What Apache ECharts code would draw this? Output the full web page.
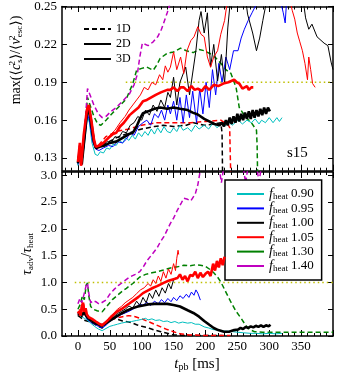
<!DOCTYPE html>
<html lang="en">
<head>
    <meta charset="UTF-8">
    <title>s15 heating</title>
    <script src="https://cdn.jsdelivr.net/npm/echarts@6.0.0/dist/echarts.min.js"></script>
    <style>
        body { margin: 0; background: #fff; }
        #chart { width: 339px; height: 376px; }
    </style>
</head>
<body>
    <div id="chart"></div>
    <script>
        // ---- data: [t_pb (ms), value] ----
        // top panel: max(<cs^2>/<vesc^2>)
        const top1D_140 = [[0,0.126],[2,0.14],[4,0.124],[7,0.13],[11,0.155],[15,0.185],[19,0.18],[25,0.172],[32,0.165],[38,0.162],[44,0.163],[52,0.167],[60,0.170],[70,0.175],[81,0.181],[88,0.188],[93,0.196],[97,0.21],[101,0.221],[110,0.219],[118,0.222],[125,0.226],[131,0.232],[140,0.245],[150,0.262]];
        const top1D_130 = [[0,0.125],[3,0.135],[6,0.126],[10,0.15],[15,0.178],[19,0.172],[25,0.163],[31,0.157],[36,0.156],[44,0.16],[54,0.1655],[65,0.171],[76,0.177],[86,0.189],[92,0.1995],[100,0.201],[108,0.202],[118,0.1995],[124,0.204],[129,0.209],[140,0.213],[150,0.214],[161,0.217],[170,0.215],[181,0.2135],[190,0.216],[198,0.215],[206,0.213],[213,0.211],[224,0.205],[232,0.2],[240,0.197],[245,0.19],[248,0.186],[253,0.17],[262,0.163],[272,0.158],[280,0.152],[281,0.14],[282,0.11]];
        const top1D_105 = [[0,0.128],[3,0.14],[5,0.125],[9,0.14],[14,0.165],[17,0.171],[21,0.158],[27,0.14],[32,0.14],[44,0.147],[60,0.151],[80,0.153],[100,0.156],[124,0.158],[150,0.158],[177,0.158],[200,0.159],[224,0.160],[236,0.156],[238,0.154],[239,0.13],[240,0.11]];
        const top1D_100 = [[0,0.127],[3,0.138],[6,0.126],[10,0.145],[15,0.168],[18,0.166],[23,0.148],[28,0.138],[35,0.139],[45,0.142],[60,0.146],[80,0.15],[100,0.153],[120,0.155],[134,0.156],[150,0.155],[170,0.156],[181,0.158],[198,0.156],[215,0.157],[224,0.158],[226,0.15],[227,0.11]];
        const top2D_090 = [[0,0.124],[3,0.134],[6,0.125],[10,0.14],[15,0.163],[18,0.158],[22,0.142],[27,0.133],[31,0.132],[35,0.135],[40,0.134],[45,0.138],[50,0.137],[55,0.141],[60,0.14],[65,0.144],[70,0.142],[75,0.146],[80,0.144],[85,0.148],[90,0.145],[95,0.15],[100,0.147],[105,0.151],[110,0.148],[115,0.153],[120,0.149],[125,0.154],[130,0.15],[135,0.155],[140,0.151],[145,0.15],[150,0.154],[155,0.151],[160,0.156],[165,0.152],[172,0.154],[178,0.151],[184,0.156],[190,0.153],[198,0.156],[205,0.153],[212,0.158],[218,0.154],[224,0.157],[230,0.155],[236,0.159],[242,0.156],[251,0.16],[258,0.157],[265,0.16],[272,0.158],[278,0.161],[284,0.157],[288,0.16],[294,0.158],[300,0.162],[306,0.158],[312,0.162],[316,0.159],[320,0.162]];
        const top2D_095 = [[0,0.125],[3,0.136],[6,0.125],[10,0.142],[15,0.165],[18,0.16],[23,0.143],[28,0.137],[33,0.136],[40,0.138],[48,0.14],[55,0.139],[62,0.143],[70,0.142],[76,0.145],[82,0.15],[88,0.148],[95,0.155],[102,0.158],[108,0.16],[114,0.156],[120,0.165],[126,0.162],[131,0.168],[136,0.16],[141,0.172],[145,0.165],[150,0.175],[155,0.16],[160,0.178],[165,0.158],[170,0.18],[175,0.162],[180,0.183],[186,0.158],[191,0.185],[196,0.165],[201,0.19],[206,0.17],[211,0.2],[216,0.18],[221,0.205],[226,0.19],[232,0.21],[238,0.2],[244,0.215],[251,0.215],[256,0.225],[261,0.232],[267,0.239],[273,0.245],[280,0.252],[288,0.26],[315,0.26],[322,0.245],[325,0.237],[328,0.26]];
        const top2D_100 = [[0,0.126],[3,0.137],[6,0.125],[10,0.143],[15,0.168],[18,0.163],[23,0.146],[28,0.138],[34,0.139],[40,0.141],[46,0.143],[52,0.142],[58,0.147],[64,0.146],[70,0.151],[76,0.15],[82,0.156],[88,0.158],[94,0.163],[100,0.16],[106,0.168],[112,0.164],[118,0.172],[124,0.167],[130,0.176],[136,0.17],[141,0.182],[145,0.178],[150,0.194],[155,0.172],[160,0.19],[169,0.202],[175,0.18],[185,0.215],[190,0.239],[193,0.246],[198,0.229],[203,0.245],[208,0.202],[213,0.22],[219,0.191],[225,0.212],[230,0.189],[235,0.233],[240,0.26],[262,0.26],[266,0.244],[274,0.229],[280,0.215],[285,0.225],[290,0.239],[298,0.26],[352,0.26],[357,0.241],[362,0.232],[367,0.236],[375,0.226],[386,0.221],[392,0.219],[397,0.206],[400,0.2]];
        const top2D_105 = [[0,0.127],[3,0.14],[5,0.124],[9,0.145],[14,0.17],[17,0.172],[21,0.16],[26,0.142],[30,0.137],[36,0.14],[42,0.143],[50,0.148],[58,0.152],[66,0.158],[74,0.163],[80,0.168],[86,0.172],[92,0.176],[98,0.18],[104,0.186],[110,0.184],[116,0.19],[122,0.188],[128,0.196],[133,0.192],[137,0.203],[141,0.198],[145,0.202],[150,0.214],[155,0.2],[161,0.21],[166,0.197],[171,0.215],[177,0.223],[182,0.226],[188,0.234],[193,0.228],[198,0.226],[203,0.21],[208,0.202],[213,0.21],[219,0.215],[224,0.228],[230,0.239],[236,0.26],[330,0.26],[336,0.247],[340,0.24],[344,0.229],[348,0.222],[352,0.215],[356,0.205],[360,0.192],[362,0.21],[365,0.2],[368,0.189],[372,0.186]];
        const top3D_105 = [[0,0.127],[3,0.142],[5,0.124],[9,0.148],[14,0.168],[17,0.172],[21,0.16],[25,0.145],[28,0.139],[34,0.14],[40,0.142],[48,0.146],[55,0.149],[60,0.15],[66,0.155],[72,0.158],[81,0.164],[88,0.167],[95,0.17],[102,0.175],[108,0.176],[115,0.178],[122,0.18],[130,0.182],[140,0.184],[145,0.184],[150,0.186],[156,0.183],[161,0.186],[166,0.186],[172,0.183],[178,0.187],[183,0.184],[188,0.185],[194,0.183],[200,0.187],[206,0.184],[213,0.188],[220,0.187],[228,0.189],[236,0.19],[245,0.192],[249,0.19],[253,0.189],[258,0.185],[261,0.184],[265,0.187],[268,0.184],[272,0.186],[275,0.186]];
        const top3D_100 = [[0,0.126],[3,0.136],[6,0.125],[10,0.145],[14,0.165],[17,0.17],[21,0.158],[25,0.143],[28,0.138],[34,0.139],[42,0.14],[50,0.142],[60,0.143],[70,0.146],[80,0.149],[86,0.15],[92,0.155],[97,0.161],[102,0.1655],[110,0.167],[120,0.169],[129,0.17],[140,0.169],[150,0.17],[160,0.169],[172,0.168],[180,0.166],[188,0.1645],[198,0.161],[206,0.159],[214,0.157],[222,0.156],[226,0.158],[229,0.155],[232,0.16],[235,0.156],[238,0.162],[241,0.157],[244,0.163],[247,0.158],[250,0.165],[253,0.159],[256,0.165],[259,0.16],[262,0.166],[265,0.161],[268,0.167],[271,0.161],[274,0.168],[277,0.162],[280,0.168],[283,0.163],[286,0.169],[289,0.164],[292,0.17],[295,0.165],[298,0.17],[301,0.167]];

        // bottom panel: tau_adv / tau_heat
        const bot1D_140 = [[0,0.6],[3,0.7],[6,0.62],[10,0.8],[13,0.95],[15,0.99],[17,0.8],[20,0.62],[24,0.66],[28,0.64],[33,0.6],[37,0.62],[44,0.67],[50,0.78],[56,0.86],[63,0.94],[70,1.0],[81,1.1],[90,1.15],[97,1.2],[103,1.3],[108,1.4],[118,1.55],[124,1.64],[129,1.75],[135,1.86],[140,1.98],[145,2.1],[150,2.2],[156,2.35],[162,2.48],[166,2.57],[172,2.55],[177,2.52],[180,2.54],[184,2.65],[188,2.82],[192,3.1],[222,3.1],[225,2.86],[228,3.1],[260,3.1],[263,2.85],[266,3.1],[281,3.1],[284,2.88],[287,3.1]];
        const bot1D_130 = [[0,0.5],[4,0.6],[7,0.75],[10,0.68],[13,0.95],[15,0.99],[17,0.75],[20,0.55],[24,0.5],[30,0.47],[38,0.45],[45,0.55],[54,0.68],[62,0.76],[70,0.84],[76,0.89],[86,0.98],[97,1.1],[106,1.15],[116,1.18],[125,1.2],[134,1.23],[145,1.27],[156,1.29],[166,1.32],[176,1.31],[185,1.33],[192,1.32],[200,1.3],[206,1.25],[213,1.18],[219,1.1],[224,1.01],[232,0.82],[240,0.63],[248,0.46],[256,0.33],[263,0.2],[269,0.12],[277,0.08],[290,0.07],[320,0.07],[360,0.07],[400,0.07]];
        const bot1D_105 = [[0,0.42],[5,0.45],[10,0.4],[16,0.35],[24,0.28],[32,0.22],[38,0.18],[46,0.26],[54,0.31],[62,0.34],[70,0.36],[80,0.38],[90,0.36],[102,0.31],[112,0.26],[122,0.21],[130,0.17],[140,0.12],[150,0.08],[160,0.04],[175,0.02],[200,0.01],[239,0.01]];
        const bot1D_100 = [[0,0.38],[4,0.35],[8,0.3],[14,0.28],[20,0.26],[26,0.22],[32,0.18],[38,0.15],[44,0.25],[50,0.32],[56,0.33],[62,0.31],[70,0.28],[80,0.26],[86,0.24],[92,0.21],[100,0.18],[108,0.16],[113,0.14],[120,0.11],[130,0.08],[140,0.05],[150,0.02],[170,0.01],[227,0.01]];
        const bot2D_090 = [[0,0.42],[3,0.38],[6,0.36],[10,0.33],[14,0.3],[20,0.24],[26,0.18],[32,0.13],[38,0.1],[44,0.14],[50,0.18],[56,0.2],[62,0.22],[68,0.24],[76,0.26],[84,0.27],[92,0.29],[100,0.31],[106,0.33],[110,0.3],[116,0.32],[122,0.29],[128,0.3],[134,0.27],[140,0.28],[146,0.25],[152,0.27],[158,0.24],[164,0.26],[172,0.24],[178,0.25],[184,0.22],[190,0.22],[198,0.17],[205,0.15],[212,0.12],[219,0.11],[227,0.09],[235,0.09],[243,0.08],[251,0.07],[260,0.06],[270,0.05],[280,0.05],[290,0.04],[300,0.05],[310,0.04],[320,0.05]];
        const bot2D_095 = [[0,0.4],[3,0.46],[6,0.38],[10,0.43],[14,0.32],[20,0.26],[26,0.22],[32,0.18],[38,0.15],[44,0.2],[50,0.27],[56,0.32],[62,0.36],[68,0.4],[74,0.43],[80,0.46],[86,0.5],[92,0.54],[97,0.6],[102,0.57],[108,0.63],[114,0.57],[120,0.65],[126,0.6],[131,0.68],[136,0.62],[141,0.7],[146,0.64],[150,0.72],[155,0.66],[160,0.75],[165,0.7],[170,0.78],[174,0.72],[178,0.82],[182,0.76],[185,0.86],[188,0.8],[192,0.67]];
        const bot2D_100 = [[0,0.38],[3,0.45],[6,0.35],[10,0.42],[14,0.33],[20,0.27],[26,0.23],[32,0.2],[38,0.17],[44,0.22],[50,0.3],[56,0.36],[62,0.42],[68,0.46],[74,0.5],[80,0.56],[86,0.52],[92,0.65],[97,0.57],[102,0.72],[107,0.62],[112,0.8],[117,0.7],[122,0.86],[127,0.74],[132,0.9],[137,0.8],[142,0.98],[146,0.88],[150,1.05],[153,1.08]];
        const bot2D_105 = [[0,0.4],[3,0.5],[6,0.42],[9,0.6],[12,0.45],[16,0.36],[22,0.3],[28,0.26],[33,0.22],[38,0.18],[44,0.26],[50,0.36],[56,0.42],[62,0.5],[68,0.55],[74,0.62],[80,0.67],[86,0.72],[92,0.79],[98,0.86],[104,0.9],[110,0.98],[114,0.93],[118,1.05],[122,0.98],[126,1.12],[130,1.02],[134,1.2],[138,1.08],[142,1.25],[146,1.15],[150,1.35],[153,1.22],[155,1.45],[157,1.6],[158,1.52]];
        const bot3D_100 = [[0,0.43],[3,0.45],[6,0.4],[10,0.44],[14,0.36],[20,0.3],[26,0.26],[32,0.22],[38,0.2],[44,0.24],[52,0.3],[60,0.36],[68,0.42],[76,0.47],[86,0.52],[94,0.55],[102,0.57],[110,0.59],[120,0.6],[129,0.6],[140,0.6],[150,0.58],[160,0.55],[172,0.48],[181,0.43],[190,0.36],[198,0.28],[206,0.21],[213,0.15],[220,0.11],[229,0.08],[237,0.08],[245,0.11],[251,0.12],[255,0.15],[259,0.13],[263,0.17],[267,0.15],[271,0.18],[275,0.16],[279,0.19],[283,0.17],[287,0.2],[291,0.17],[295,0.2],[299,0.18],[302,0.21]];
        const bot3D_105 = [[0,0.42],[2,0.46],[4,0.38],[6,0.55],[8,0.62],[10,0.45],[12,0.52],[14,0.4],[17,0.35],[22,0.32],[28,0.27],[33,0.23],[38,0.2],[43,0.25],[50,0.33],[56,0.4],[62,0.46],[68,0.5],[75,0.56],[81,0.61],[88,0.67],[95,0.73],[102,0.8],[110,0.85],[118,0.9],[124,0.93],[129,0.96],[136,1.0],[142,1.03],[150,1.06],[156,1.08],[160,1.15],[164,1.05],[168,1.12],[172,1.02],[176,1.14],[180,1.12],[184,1.2],[188,1.08],[192,1.18],[196,1.1],[200,1.16],[204,1.2],[208,1.12],[212,1.35],[215,1.22],[218,1.4],[221,1.28],[224,1.45],[227,1.32],[230,1.48]];

        // reference levels
        const refTop = [[75,0.19],[400,0.19]];
        const refBot = [[-5,1.0],[400,1.0]];

        // ticks / labels
        const xLabels = [0,50,100,150,200,250,300,350];
        const xMajor = [0,50,100,150,200,250,300,350,400];
        const xMinor = [-20,-10,0,10,20,30,40,50,60,70,80,90,100,110,120,130,140,150,160,170,180,190,200,210,220,230,240,250,260,270,280,290,300,310,320,330,340,350,360,370,380,390];
        const yTopTicks = [0.13,0.16,0.19,0.22,0.25];
        const yBotTicks = [0,0.5,1.0,1.5,2.0,2.5,3.0];
        const heatNames = ['0.90','0.95','1.00','1.05','1.30','1.40'];

        const C = { c:'#00bfbf', b:'#0000ff', k:'#000000', r:'#ff0000', g:'#008000', m:'#bf00bf', y:'#bfbf00' };
        const FONT = '"Liberation Serif", "DejaVu Serif", serif';

        function line(name, data, color, kind, panel) {
            const w = kind === 'thick' ? 2.6 : (kind === 'dash' ? 1.5 : 1);
            return {
                name: name, type: 'line', data: data, symbol: 'none', silent: true,
                xAxisIndex: panel === 0 ? 0 : 2, yAxisIndex: panel === 0 ? 0 : 2,
                z: kind === 'thick' ? 4 : 3,
                lineStyle: { color: color, width: w, type: kind === 'dash' ? [5, 3] : 'solid' }
            };
        }

        const series = [
            // top
            line('t', top1D_100, C.k, 'dash', 0),
            line('t', top1D_105, C.r, 'dash', 0),
            line('t', top1D_130, C.g, 'dash', 0),
            line('t', top1D_140, C.m, 'dash', 0),
            line('t', top2D_090, C.c, 'thin', 0),
            line('t', top2D_095, C.b, 'thin', 0),
            line('t', top2D_100, C.k, 'thin', 0),
            line('t', top2D_105, C.r, 'thin', 0),
            line('t', top3D_100, C.k, 'thick', 0),
            line('t', top3D_105, C.r, 'thick', 0),
            // bottom
            line('b', bot1D_100, C.k, 'dash', 1),
            line('b', bot1D_105, C.r, 'dash', 1),
            line('b', bot1D_130, C.g, 'dash', 1),
            line('b', bot1D_140, C.m, 'dash', 1),
            line('b', bot2D_090, C.c, 'thin', 1),
            line('b', bot2D_095, C.b, 'thin', 1),
            line('b', bot2D_100, C.k, 'thin', 1),
            line('b', bot2D_105, C.r, 'thin', 1),
            line('b', bot3D_100, C.k, 'thick', 1),
            line('b', bot3D_105, C.r, 'thick', 1),
            // dotted reference lines
            { type: 'line', data: refTop, symbol: 'none', silent: true, xAxisIndex: 0, yAxisIndex: 0, z: 1,
              lineStyle: { color: C.y, width: 1.5, type: [1.5, 3] } },
            { type: 'line', data: refBot, symbol: 'none', silent: true, xAxisIndex: 2, yAxisIndex: 2, z: 1,
              lineStyle: { color: C.y, width: 1.5, type: [1.5, 3] } },
            // legend entries
            line('1D', [], C.k, 'dash', 0),
            line('2D', [], C.k, 'thin', 0),
            line('3D', [], C.k, 'thick', 0)
        ];
        const heatColors = [C.c, C.b, C.k, C.r, C.g, C.m];
        heatNames.forEach((n, i) => {
            const s = line(n, [], heatColors[i], 'thin', 1);
            s.lineStyle.width = 2;
            series.push(s);
        });

        const G0 = { left: 62, top: 6, width: 271, height: 164.7 };
        const G1 = { left: 62, top: 172, width: 271, height: 164 };

        function xAx(grid, pos, ticks, len, opts) {
            return Object.assign({
                type: 'value', gridIndex: grid, position: pos, min: -25, max: 400,
                splitLine: { show: false },
                axisLine: { show: true, onZero: false, lineStyle: { color: '#000', width: 1.5 } },
                axisTick: { show: true, inside: true, length: len, customValues: ticks, lineStyle: { color: '#000', width: 1 } },
                axisLabel: { show: false }
            }, opts || {});
        }
        function yAx(grid, pos, min, max, ticks, opts) {
            return Object.assign({
                type: 'value', gridIndex: grid, position: pos, min: min, max: max,
                splitLine: { show: false },
                axisLine: { show: true, onZero: false, lineStyle: { color: '#000', width: 1.5 } },
                axisTick: { show: true, inside: true, length: 5, customValues: ticks, lineStyle: { color: '#000', width: 1 } },
                axisLabel: { show: false }
            }, opts || {});
        }
        const labelStyle = { show: true, color: '#000', fontFamily: FONT, fontSize: 13 };

        const chart = echarts.init(document.getElementById('chart'), null, { renderer: 'canvas' });
        chart.setOption({
            animation: false,
            backgroundColor: '#fff',
            grid: [G0, G1, G0, G1],
            xAxis: [
                xAx(0, 'bottom', xMinor, 3),
                xAx(0, 'top', xMinor, 3),
                xAx(1, 'bottom', xMinor, 3, {
                    axisLabel: Object.assign({ customValues: xLabels, margin: 4, formatter: v => String(v) }, labelStyle)
                }),
                xAx(1, 'top', xMinor, 3),
                xAx(2, 'bottom', xMajor, 6, { axisLine: { show: false } }),
                xAx(2, 'top', xMajor, 6, { axisLine: { show: false } }),
                xAx(3, 'bottom', xMajor, 6, { axisLine: { show: false } }),
                xAx(3, 'top', xMajor, 6, { axisLine: { show: false } })
            ],
            yAxis: [
                yAx(0, 'left', 0.12, 0.25, yTopTicks, {
                    axisLabel: Object.assign({ customValues: yTopTicks, margin: 5, formatter: v => v.toFixed(2) }, labelStyle)
                }),
                yAx(0, 'right', 0.12, 0.25, yTopTicks),
                yAx(1, 'left', 0, 3.06, yBotTicks, {
                    axisLabel: Object.assign({ customValues: yBotTicks, margin: 5, formatter: v => v.toFixed(1) }, labelStyle)
                }),
                yAx(1, 'right', 0, 3.06, yBotTicks),
                { type: 'value', gridIndex: 2, min: 0.12, max: 0.25, show: false },
                { type: 'value', gridIndex: 3, min: 0, max: 3.06, show: false }
            ],
            legend: [
                {
                    data: ['1D', '2D', '3D'], orient: 'vertical', left: 83, top: 23,
                    padding: 0, itemWidth: 27, itemHeight: 12, itemGap: 3, selectedMode: false,
                    itemStyle: { opacity: 0 },
                    textStyle: { fontFamily: FONT, fontSize: 12, color: '#000', padding: [0, 0, 0, 0] }
                },
                {
                    data: heatNames, orient: 'vertical', left: 225, top: 180,
                    padding: [7, 8, 7, 11], itemWidth: 27, itemHeight: 12, itemGap: 0.4, selectedMode: false,
                    backgroundColor: '#fff', borderColor: '#000', borderWidth: 1.5, borderRadius: 0,
                    itemStyle: { opacity: 0 },
                    formatter: n => '{f|f}{s|heat} {n|' + n + '}',
                    textStyle: {
                        fontFamily: FONT, color: '#000',
                        rich: {
                            f: { fontFamily: FONT, fontStyle: 'italic', fontSize: 14, lineHeight: 14, verticalAlign: 'middle' },
                            s: { fontFamily: FONT, fontSize: 9, lineHeight: 9, verticalAlign: 'bottom' },
                            n: { fontFamily: FONT, fontSize: 13, lineHeight: 14, verticalAlign: 'middle' }
                        }
                    }
                }
            ],
            graphic: [
                {
                    type: 'text', x: 287, y: 153, silent: true,
                    style: { text: 's15', font: '15px ' + FONT, fill: '#000', verticalAlign: 'middle' }
                },
                {
                    type: 'text', x: 197, y: 364, silent: true,
                    style: {
                        text: '{i|t}{s|pb}{r| [ms]}', align: 'center', verticalAlign: 'middle',
                        rich: {
                            i: { fontFamily: FONT, fontStyle: 'italic', fontSize: 15, lineHeight: 16, verticalAlign: 'middle', fill: '#000' },
                            s: { fontFamily: FONT, fontSize: 10, lineHeight: 10, verticalAlign: 'bottom', fill: '#000' },
                            r: { fontFamily: FONT, fontSize: 15, lineHeight: 16, verticalAlign: 'middle', fill: '#000' }
                        }
                    }
                },
                {
                    type: 'text', x: 16, y: 60, rotation: Math.PI / 2, silent: true,
                    style: {
                        text: '{r|max(⟨}{i|c}{p|2}{s|s}{r|⟩/⟨}{i|v}{p|2}{s|esc}{r|⟩)}', align: 'center', verticalAlign: 'middle',
                        rich: {
                            r: { fontFamily: FONT, fontSize: 14, lineHeight: 16, verticalAlign: 'middle', fill: '#000' },
                            i: { fontFamily: FONT, fontStyle: 'italic', fontSize: 14, lineHeight: 16, verticalAlign: 'middle', fill: '#000' },
                            p: { fontFamily: FONT, fontSize: 9, lineHeight: 9, verticalAlign: 'top', width: 1, fill: '#000' },
                            s: { fontFamily: FONT, fontSize: 9, lineHeight: 9, verticalAlign: 'bottom', fill: '#000' }
                        }
                    }
                },
                {
                    type: 'text', x: 27, y: 254, rotation: Math.PI / 2, silent: true,
                    style: {
                        text: '{i|τ}{s|adv}{r|/}{i|τ}{s|heat}', align: 'center', verticalAlign: 'middle',
                        rich: {
                            r: { fontFamily: FONT, fontSize: 14, lineHeight: 16, verticalAlign: 'middle', fill: '#000' },
                            i: { fontFamily: FONT, fontStyle: 'italic', fontSize: 14, lineHeight: 16, verticalAlign: 'middle', fill: '#000' },
                            s: { fontFamily: FONT, fontSize: 9, lineHeight: 9, verticalAlign: 'bottom', fill: '#000' }
                        }
                    }
                }
            ],
            series: series
        });
    </script>
</body>
</html>
